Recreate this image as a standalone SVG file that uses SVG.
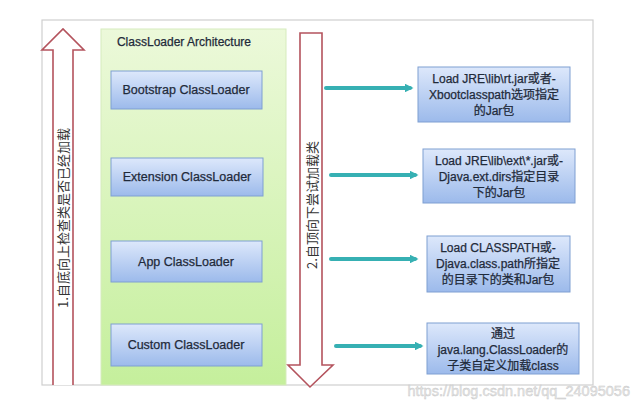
<svg xmlns="http://www.w3.org/2000/svg" width="640" height="413" viewBox="0 0 640 413">
<defs>
<linearGradient id="gp" x1="0" y1="0" x2="0" y2="1">
<stop offset="0" stop-color="#ecf9da"/>
<stop offset="1" stop-color="#c5ef9c"/>
</linearGradient>
<linearGradient id="gb" x1="0" y1="0" x2="0" y2="1">
<stop offset="0" stop-color="#dde8fb"/>
<stop offset="1" stop-color="#9cbaeb"/>
</linearGradient>
<marker id="ah" viewBox="0 0 10 10" refX="6" refY="5" markerWidth="2.2" markerHeight="2.2" orient="auto" markerUnits="strokeWidth">
<path d="M0,0 L10,5 L0,10 z" fill="#36b0b3"/>
</marker>
<style>
.frame{fill:#ffffff;stroke:#cfcfcf;stroke-width:1.2}
.red{fill:#ffffff;stroke:#b4535d;stroke-width:1.6;stroke-linejoin:miter}
.ldr{fill:url(#gb);stroke:#7f9fd2;stroke-width:1}
.t{font-family:"Liberation Sans","Noto Sans CJK SC",sans-serif;font-size:12.5px;fill:#1f2a3a;stroke:#1f2a3a;stroke-width:0.25;text-anchor:middle}
.s{font-family:"Liberation Sans","Noto Sans CJK SC",sans-serif;font-size:12px;fill:#1f2a3a;stroke:#1f2a3a;stroke-width:0.25;text-anchor:middle}
.v{font-family:"Noto Sans CJK SC",sans-serif;font-size:13px;fill:#333333;text-anchor:middle}
.con{stroke:#36b0b3;stroke-width:4;fill:none;stroke-linecap:round;marker-end:url(#ah)}
</style>
</defs>
<rect width="640" height="413" fill="#ffffff"/>
<rect class="frame" x="42" y="20" width="551" height="365"/>

<g id="up-arrow">
<path class="red" d="M53,385 L53,50 L42,50 L63,29 L84,50 L73,50 L73,385"/>
<text class="v" transform="translate(68,218) rotate(-90)">1.自底向上检查类是否已经加载</text>
</g>

<g id="architecture">
<rect x="101" y="29" width="185" height="356" fill="url(#gp)" stroke="#d6ebbd" stroke-width="1"/>
<text x="184" y="46" class="s">ClassLoader Architecture</text>
</g>

<g id="bootstrap">
<rect class="ldr" x="111" y="71" width="151" height="38"/>
<text x="186" y="94" class="t">Bootstrap ClassLoader</text>
</g>
<g id="extension">
<rect class="ldr" x="111" y="158" width="152" height="38"/>
<text x="187" y="181" class="t">Extension ClassLoader</text>
</g>
<g id="app">
<rect class="ldr" x="111" y="241" width="151" height="41"/>
<text x="186" y="266" class="t">App ClassLoader</text>
</g>
<g id="custom">
<rect class="ldr" x="111" y="324" width="151" height="42"/>
<text x="186" y="349" class="t">Custom ClassLoader</text>
</g>

<g id="down-arrow">
<path class="red" d="M300,33 L322,33 L322,365 L333,365 L310,387 L288,365 L300,365 Z"/>
<text class="v" transform="translate(317,205) rotate(-90)">2.自顶向下尝试加载类</text>
</g>

<g id="desc-bootstrap">
<rect class="ldr" x="418" y="67" width="152" height="55"/>
<text x="494" y="83" class="s">Load JRE\lib\rt.jar或者-</text>
<text x="494" y="99" class="s">Xbootclasspath选项指定</text>
<text x="494" y="115" class="s">的Jar包</text>
</g>
<g id="desc-extension">
<rect class="ldr" x="423" y="149" width="152" height="54"/>
<text x="499" y="165" class="s">Load JRE\lib\ext\*.jar或-</text>
<text x="499" y="181" class="s">Djava.ext.dirs指定目录</text>
<text x="499" y="197" class="s">下的Jar包</text>
</g>
<g id="desc-app">
<rect class="ldr" x="427" y="236" width="143" height="56"/>
<text x="498" y="252" class="s">Load CLASSPATH或-</text>
<text x="498" y="268" class="s">Djava.class.path所指定</text>
<text x="498" y="284" class="s">的目录下的类和Jar包</text>
</g>
<g id="desc-custom">
<rect class="ldr" x="427" y="323" width="152" height="51"/>
<text x="503" y="338" class="s">通过</text>
<text x="503" y="354" class="s">java.lang.ClassLoader的</text>
<text x="503" y="370" class="s">子类自定义加载class</text>
</g>

<g id="connectors">
<line class="con" x1="326" y1="88" x2="410" y2="88"/>
<line class="con" x1="331" y1="175" x2="415" y2="175"/>
<line class="con" x1="331" y1="259" x2="415" y2="259"/>
<line class="con" x1="336" y1="346" x2="420" y2="346"/>
</g>

<text x="630" y="396" font-family="Liberation Sans, sans-serif" font-size="14.5" fill="#e6e6e6" stroke="#c8c8c8" stroke-width="0.4" text-anchor="end">https://blog.csdn.net/qq_24095056</text>
</svg>
